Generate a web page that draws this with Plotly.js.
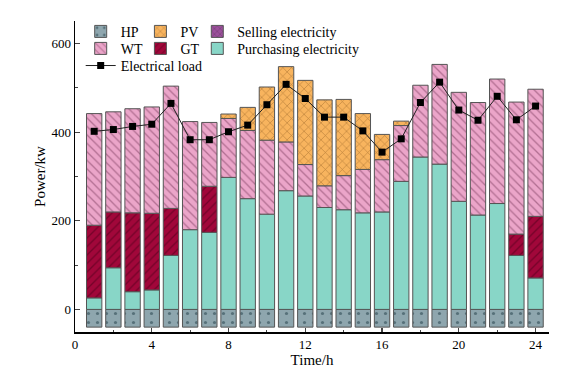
<!DOCTYPE html>
<html>
<head>
<meta charset="utf-8">
<script src="https://cdn.plot.ly/plotly-3.0.1.min.js"></script>
<style>html,body{margin:0;padding:0;background:#fff;}#chart{width:581px;height:382px;}</style>
</head>
<body>
<div id="chart"></div>
<script>
const hours = [1,2,3,4,5,6,7,8,9,10,11,12,13,14,15,16,17,18,19,20,21,22,23,24];
const hp = [-40,-40,-40,-40,-40,-40,-40,-40,-40,-40,-40,-40,-40,-40,-40,-40,-40,-40,-40,-40,-40,-40,-40,-40];
const purchasing = [26,94,40,44,122,180,174,298,250,215,268,256,230,225,218,220,289,344,328,244,213,239,122,71];
const gt = [164,126,178,173,106,0,104,0,0,0,0,0,0,0,0,0,0,0,0,0,0,0,48,139];
const wt = [252,226,235,240,276,244,144,133,154,167,110,71,49,77,98,118,126,162,225,246,254,281,298,287];
const pv = [0,0,0,0,0,0,0,10,52,120,170,190,194,172,126,57,10,0,0,0,0,0,0,0];
const selling = [0,0,0,0,0,0,0,0,0,0,0,0,0,0,0,0,0,0,0,0,0,0,0,0];
const load = [402,406,413,418,465,383,383,401,416,462,508,476,434,434,403,355,385,467,513,450,427,481,428,459];

const nz = a => a.map(v => v === 0 ? null : v);
const line = {color:'#555', width:1};
function barTrace(name, vals, bg, fg, shape, size, sol, leg){
  const m = {color:bg, line:line};
  if (shape) m.pattern = {shape:shape, fgcolor:fg, bgcolor:bg, size:size, solidity:sol, fillmode:'overlay'};
  return {type:'bar', name:name, x:hours, y:nz(vals), marker:m, width:0.8, legend:leg};
}
const traces = [
  barTrace('HP', hp, '#8ea6ae', '#1e3a44', '.', 9, 0.1, 'legend'),
  barTrace('Purchasing electricity', purchasing, '#88d6c7', null, null, 0, 0, 'legend6'),
  barTrace('GT', gt, '#a1073a', '#4a0018', '/', 6, 0.22, 'legend5'),
  barTrace('WT', wt, '#eba5c9', '#7a3a5c', '\\', 6, 0.22, 'legend4'),
  barTrace('PV', pv, '#f8b45e', '#7a4a14', 'x', 6, 0.2, 'legend2'),
  barTrace('Selling electricity', selling, '#9b519b', '#3a103a', 'x', 5, 0.2, 'legend3'),
  {type:'scatter', mode:'lines+markers', name:'Electrical load', x:hours, y:load,
   line:{color:'#222', width:1}, marker:{symbol:'square', size:7, color:'#000'}, legend:'legend7'}
];
const fam = 'Liberation Serif, Times New Roman, serif';
const font = {family:fam, size:14, color:'#000'};
const colX = [0.012, 0.138, 0.258];
const rowY = [1.0167, 0.962, 0.907];
function leg(c, r){
  return {orientation:'v', yanchor:'top', x:colX[c], y:rowY[r], bgcolor:'rgba(0,0,0,0)', font:font, tracegroupgap:0};
}
const layout = {
  width:581, height:382,
  margin:{l:75, r:32, t:21, b:50},
  paper_bgcolor:'#fff', plot_bgcolor:'#fff',
  font:font,
  barmode:'relative', bargap:0.2,
  showlegend:true,
  legend:leg(0,0), legend2:leg(1,0), legend3:leg(2,0),
  legend4:leg(0,1), legend5:leg(1,1), legend6:leg(2,1),
  legend7:leg(0,2),
  xaxis:{range:[0,24.7], tickvals:[0,4,8,12,16,20,24], ticks:'inside', ticklen:4, tickwidth:1.2,
    showline:true, linecolor:'#000', linewidth:1.5, showgrid:false, zeroline:false,
    minor:{tickvals:[2,6,10,14,18,22], ticks:'inside', ticklen:2, tickwidth:1, showgrid:false},
    title:{text:'Time/h', font:{family:fam, size:15}, standoff:1}, tickfont:{family:fam, size:13}},
  yaxis:{range:[-51,651], tickvals:[0,200,400,600], ticks:'inside', ticklen:5, tickwidth:1.2,
    showline:true, linecolor:'#000', linewidth:1.5, showgrid:false, zeroline:false,
    minor:{tickvals:[100,300,500], ticks:'inside', ticklen:3, tickwidth:1, showgrid:false},
    title:{text:'Power/kw', font:{family:fam, size:15}, standoff:2}, tickfont:{family:fam, size:13}}
};
Plotly.newPlot('chart', traces, layout, {displayModeBar:false, staticPlot:true});
</script>
</body>
</html>
